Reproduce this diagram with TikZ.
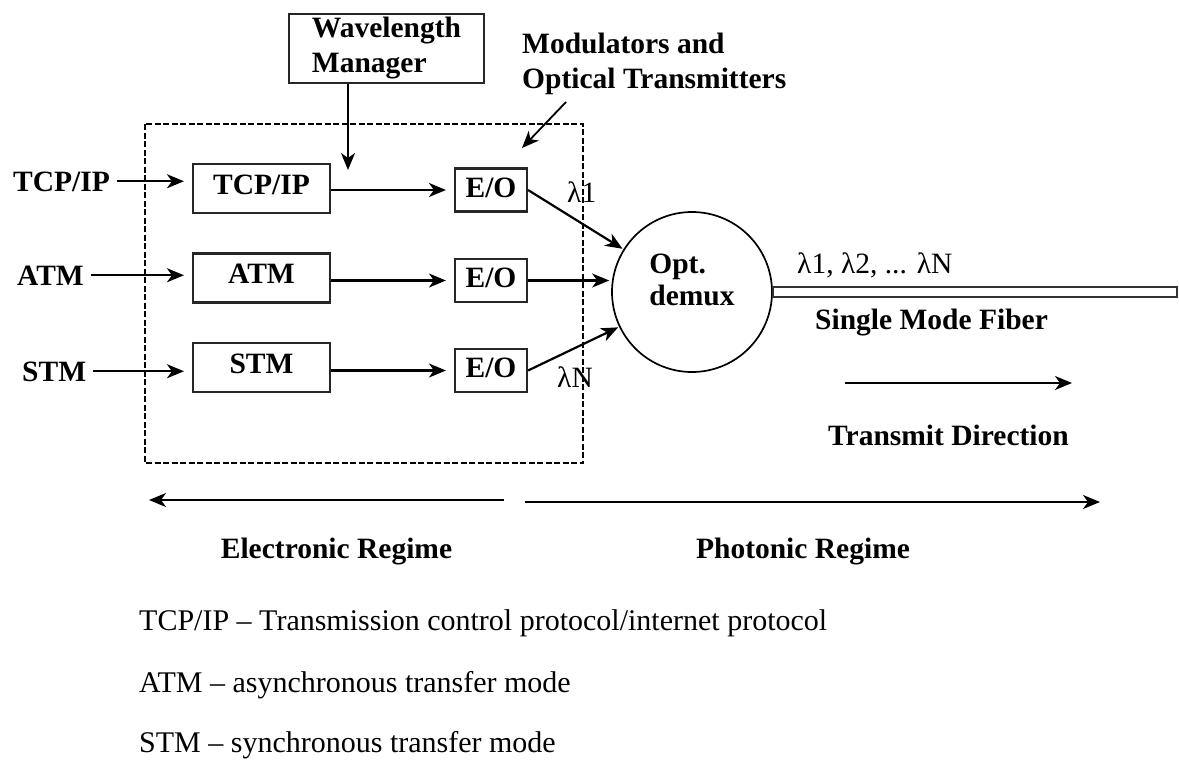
\documentclass[tikz,border=0pt]{standalone}
\usepackage{fontspec}
\setmainfont{Liberation Serif}
\usetikzlibrary{arrows.meta,calc}
\begin{document}
\begin{tikzpicture}[x=1pt,y=-1pt,
  every node/.style={inner sep=0pt},
  bf/.style={font=\fontsize{29.5}{35}\selectfont\bfseries},
  rm/.style={font=\fontsize{29.5}{35}\selectfont},
  lg/.style={font=\fontsize{30}{36}\selectfont},
  blk/.style={draw=black!85, line width=2.1pt, bf, text height=19.5pt},
  protobox/.style={blk, minimum width=137pt, minimum height=49pt, text depth=8pt},
  eobox/.style={blk, minimum width=72pt, minimum height=43pt, text depth=5pt},
  arr/.style={-{Stealth[length=17pt,width=14pt,inset=5pt]}, line width=2.2pt},
  caplbl/.style={bf, text height=19.5pt, text depth=0pt},
  dashbox/.style={line width=2pt, dash pattern=on 6pt off 2.5pt},
]
\useasboundingbox (0,0) rectangle (1179,774);

% top boxes and labels
\node[draw=black!85, line width=2.1pt, bf, minimum width=195pt, minimum height=69pt, align=left] (wm) at (386.5,48.5) {Wavelength\\Manager};
\node[bf, align=left, anchor=west] (mod) at (522,63.7) {Modulators and\\Optical Transmitters};

% dashed electronic region
\draw[dashbox] (145,124) rectangle (583,463);

% inputs
\node[caplbl, anchor=base west] (in1) at (13,191) {TCP/IP};
\node[caplbl, anchor=base west] (in2) at (17,285) {ATM};
\node[caplbl, anchor=base west] (in3) at (22,381) {STM};

\node[protobox] (b1) at (261.5,188.5) {TCP/IP};
\node[protobox] (b2) at (261.5,278) {ATM};
\node[protobox] (b3) at (261.5,367.5) {STM};

\node[eobox] (e1) at (491,190) {E/O};
\node[eobox] (e2) at (491,280.5) {E/O};
\node[eobox] (e3) at (491,370.5) {E/O};

\node[circle, draw, line width=1.7pt, minimum size=160pt] (c) at (692,292) {};
\node[font=\fontsize{29.5}{32}\selectfont\bfseries, align=left] (ct) at (692,280) {Opt.\\demux};

% connectors
\draw[arr, shorten <=7pt, shorten >=8pt] (in1.east) -- (in1.east -| b1.west);
\draw[arr, shorten <=7pt, shorten >=8pt] (in2.east) -- (in2.east -| b2.west);
\draw[arr, shorten <=7pt, shorten >=8pt] (in3.east) -- (in3.east -| b3.west);

\draw[arr, shorten >=8pt] (e1.west -| b1.east) -- (e1.west);
\draw[arr, shorten >=8pt] (e2.west -| b2.east) -- (e2.west);
\draw[arr, shorten >=8pt] (e3.west -| b3.east) -- (e3.west);

\draw[arr, shorten >=1pt] (e1.east) -- (c);
\draw[arr, shorten >=2pt] (e2.east) -- (e2.east -| c.west);
\draw[arr, shorten >=1pt] (e3.east) -- (c);

\coordinate (wmtip) at (348,170);
\draw[arr] (wmtip |- wm.south) -- (wmtip);
\coordinate (modtail) at (566,102);
\coordinate (modtip) at (522,148);
\draw[arr, line width=1.8pt] (modtail) -- (modtip);

% wavelength labels
\node[rm, anchor=base west] (l1) at (567,202) {λ1};
\node[rm, anchor=base west] (lN) at (557,387) {λN};
\node[rm, anchor=base west] (lall) at (797,273) {λ1, λ2, ... λN};

% fiber
\coordinate (fend) at (1177,292);
\draw[draw=black!80, line width=1.6pt, fill=white] ($(c.east)+(0,-5)$) rectangle ($(fend)+(0,5)$);
\node[bf, anchor=base west] (smf) at (815,329) {Single Mode Fiber};

\coordinate (tdA) at (845,383);
\coordinate (tdB) at (1072,383);
\draw[arr] (tdA) -- (tdB);
\node[bf, anchor=base west] (td) at (828,445) {Transmit Direction};

% regimes
\coordinate (eA) at (504,500);
\coordinate (eB) at (149,500);
\draw[arr] (eA) -- (eB);
\coordinate (pA) at (525,502);
\coordinate (pB) at (1100,502);
\draw[arr] (pA) -- (pB);
\node[bf, anchor=base] (er) at (336.5,558) {Electronic Regime};
\node[bf, anchor=base] (pr) at (803,558) {Photonic Regime};

% legend
\node[lg, anchor=base west] (lg1) at (139,630) {TCP/IP – Transmission control protocol/internet protocol};
\node[lg, anchor=base west] (lg2) at (139,692) {ATM – asynchronous transfer mode};
\node[lg, anchor=base west] (lg3) at (139,752) {STM – synchronous transfer mode};
\end{tikzpicture}
\end{document}
